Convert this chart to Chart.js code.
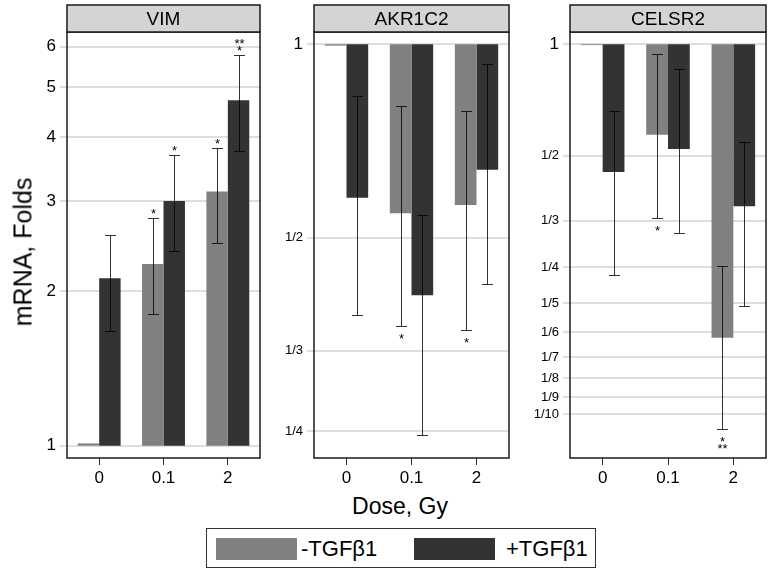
<!DOCTYPE html>
<html>
<head>
<meta charset="utf-8">
<script src="https://cdn.jsdelivr.net/npm/chart.js@4.4.0/dist/chart.umd.min.js"></script>
<style>
  body { margin: 0; background: #fff; font-family: "Liberation Sans", Arial, sans-serif; }
  #wrap { position: relative; width: 772px; height: 574px; overflow: hidden; }
  canvas { position: absolute; top: 0; }
  .ytitle { position: absolute; left: 23px; top: 252px; transform: translate(-50%, -50%) rotate(-90deg); font-size: 25px; white-space: nowrap; }
  .xtitle { position: absolute; left: 400px; top: 506px; transform: translate(-50%, -50%); font-size: 23px; white-space: nowrap; }
  .legend { position: absolute; left: 206px; top: 528px; width: 388px; height: 38px; border: 1.5px solid #333; }
  .sw { position: absolute; top: 9px; width: 81px; height: 22px; }
  .lt { position: absolute; top: 7px; font-size: 22px; white-space: nowrap; }
</style>
</head>
<body>
<div id="wrap">
  <canvas id="vim" width="262" height="490" style="left:0px"></canvas>
  <canvas id="akr" width="250" height="490" style="left:262px"></canvas>
  <canvas id="cel" width="260" height="490" style="left:512px"></canvas>
  <div class="ytitle">mRNA, Folds</div>
  <div class="xtitle">Dose, Gy</div>
  <div class="legend">
    <div class="sw" style="left:9px;background:#808080"></div>
    <div class="lt" style="left:94px">-TGF&beta;1</div>
    <div class="sw" style="left:207px;background:#333333"></div>
    <div class="lt" style="left:299px">+TGF&beta;1</div>
  </div>
</div>
<script>
const FONT = '"Liberation Sans", Arial, sans-serif';
const LIGHT = '#808080';
const DARK = '#333333';

const doses = ['0', '0.1', '2'];

// VIM
const vimMinus = [1.01, 2.26, 3.13];
const vimMinusErr = [null, [1.81, 2.78], [2.48, 3.81]];
const vimMinusSig = ['', '*', '*'];
const vimPlus = [2.12, 3.00, 4.72];
const vimPlusErr = [[1.67, 2.57], [2.40, 3.69], [3.76, 5.78]];
const vimPlusSig = ['', '*', '**\n*'];
const vimTicks = [1, 2, 3, 4, 5, 6];
const vimTickLabels = ['1', '2', '3', '4', '5', '6'];

// AKR1C2
const akrMinus = [0.995, 0.546, 0.562];
const akrMinusErr = [null, [0.364, 0.801], [0.359, 0.788]];
const akrMinusSig = ['', '*', '*'];
const akrPlus = [0.577, 0.407, 0.638];
const akrPlusErr = [[0.379, 0.830], [0.2465, 0.542], [0.423, 0.931]];
const akrPlusSig = ['', '', ''];
const akrTicks = [1/4, 1/3, 1/2, 1];
const akrTickLabels = ['1/4', '1/3', '1/2', '1'];

// CELSR2
const celMinus = [0.995, 0.570, 0.161];
const celMinusErr = [null, [0.339, 0.939], [0.0911, 0.252]];
const celMinusSig = ['', '*', '*\n**'];
const celPlus = [0.4515, 0.521, 0.365];
const celPlusErr = [[0.2375, 0.659], [0.310, 0.859], [0.196, 0.543]];
const celPlusSig = ['', '', ''];
const celTicks = [1/10, 1/9, 1/8, 1/7, 1/6, 1/5, 1/4, 1/3, 1/2, 1];
const celTickLabels = ['1/10', '1/9', '1/8', '1/7', '1/6', '1/5', '1/4', '1/3', '1/2', '1'];

// error bars, asterisks, frame and header
const panelDecor = {
  id: 'panelDecor',
  afterDatasetsDraw(chart) {
    const ctx = chart.ctx;
    const y = chart.scales.y;
    ctx.save();
    chart.data.datasets.forEach((ds, i) => {
      const meta = chart.getDatasetMeta(i);
      meta.data.forEach((bar, j) => {
        const e = ds.errs[j];
        if (!e) return;
        const x = Math.round(bar.x) + 0.5;
        const yLo = Math.round(y.getPixelForValue(e[0])) + 0.5;
        const yHi = Math.round(y.getPixelForValue(e[1])) + 0.5;
        ctx.strokeStyle = 'rgba(0,0,0,0.8)';
        ctx.lineWidth = 1;
        ctx.beginPath();
        ctx.moveTo(x, yLo); ctx.lineTo(x, yHi);
        ctx.moveTo(x - 5.5, yLo); ctx.lineTo(x + 5.5, yLo);
        ctx.moveTo(x - 5.5, yHi); ctx.lineTo(x + 5.5, yHi);
        ctx.stroke();
        const sig = ds.sig[j];
        if (!sig) return;
        const lines = sig.split('\n');
        ctx.fillStyle = '#000';
        ctx.font = '13px ' + FONT;
        ctx.textAlign = 'center';
        ctx.textBaseline = 'alphabetic';
        const up = ds.data[j][1] > 1;
        lines.forEach((s, k) => {
          let c;
          if (up) c = yHi - 8 - (lines.length - 1 - k) * 7;
          else c = yLo + 9 + k * 7;
          ctx.fillText(s, x, c + 7.5);
        });
      });
    });
    ctx.restore();
  },
  afterDraw(chart) {
    const ctx = chart.ctx;
    const a = chart.chartArea;
    const opts = chart.options.plugins.panelDecor;
    ctx.save();
    ctx.strokeStyle = '#1a1a1a';
    ctx.lineWidth = 1.5;
    ctx.strokeRect(a.left, a.top, a.right - a.left, a.bottom - a.top);
    ctx.fillStyle = '#d4d4d4';
    ctx.fillRect(a.left, 5, a.right - a.left, a.top - 5);
    ctx.strokeRect(a.left, 5, a.right - a.left, a.top - 5);
    ctx.fillStyle = '#000';
    ctx.font = '19px ' + FONT;
    ctx.textAlign = 'center';
    ctx.textBaseline = 'middle';
    ctx.fillText(opts.name, (a.left + a.right) / 2, (5 + a.top) / 2 + 1);
    ctx.restore();
  }
};

function makePanel(id, name, minus, minusErr, minusSig, plus, plusErr, plusSig, ticks, tickLabels, yMin, yMax, yWidth, padRight) {
  new Chart(document.getElementById(id), {
    type: 'bar',
    data: {
      labels: doses,
      datasets: [{
        label: '-TGFβ1',
        data: minus.map(v => [1, v]),
        errs: minusErr,
        sig: minusSig,
        backgroundColor: LIGHT,
        categoryPercentage: 0.667,
        barPercentage: 1.0
      }, {
        label: '+TGFβ1',
        data: plus.map(v => [1, v]),
        errs: plusErr,
        sig: plusSig,
        backgroundColor: DARK,
        categoryPercentage: 0.667,
        barPercentage: 1.0
      }]
    },
    options: {
      responsive: false,
      animation: false,
      layout: { padding: { top: 32, right: padRight, left: 0, bottom: 0 } },
      plugins: {
        legend: { display: false },
        tooltip: { enabled: false },
        panelDecor: { name: name }
      },
      scales: {
        x: {
          grid: { offset: false, drawOnChartArea: false, tickLength: 7, color: '#333', lineWidth: 1 },
          border: { display: false },
          ticks: { color: '#000', font: { family: FONT, size: 17 }, padding: 3, maxRotation: 0 },
          afterFit: s => { s.height = 32; }
        },
        y: {
          type: 'logarithmic',
          min: yMin,
          max: yMax,
          afterBuildTicks: s => { s.ticks = ticks.map(v => ({ value: v })); },
          grid: { color: '#dedede', lineWidth: 2, tickLength: 7 },
          border: { display: false },
          ticks: {
            autoSkip: false,
            color: '#000',
            padding: 4,
            callback: (v, i) => tickLabels[i],
            font: c => ({ family: FONT, size: tickLabels[c.index] && tickLabels[c.index].indexOf('/') >= 0 ? 13 : 17 })
          },
          afterFit: s => { s.width = yWidth; }
        }
      }
    },
    plugins: [panelDecor]
  });
}

makePanel('vim', 'VIM', vimMinus, vimMinusErr, vimMinusSig, vimPlus, vimPlusErr, vimPlusSig,
  vimTicks, vimTickLabels, 0.946, 6.41, 67, 2);
makePanel('akr', 'AKR1C2', akrMinus, akrMinusErr, akrMinusSig, akrPlus, akrPlusErr, akrPlusSig,
  akrTicks, akrTickLabels, 0.2271, 1.045, 52, 3);
makePanel('cel', 'CELSR2', celMinus, celMinusErr, celMinusSig, celPlus, celPlusErr, celPlusSig,
  celTicks, celTickLabels, 0.0762, 1.0795, 58, 6);
</script>
</body>
</html>
